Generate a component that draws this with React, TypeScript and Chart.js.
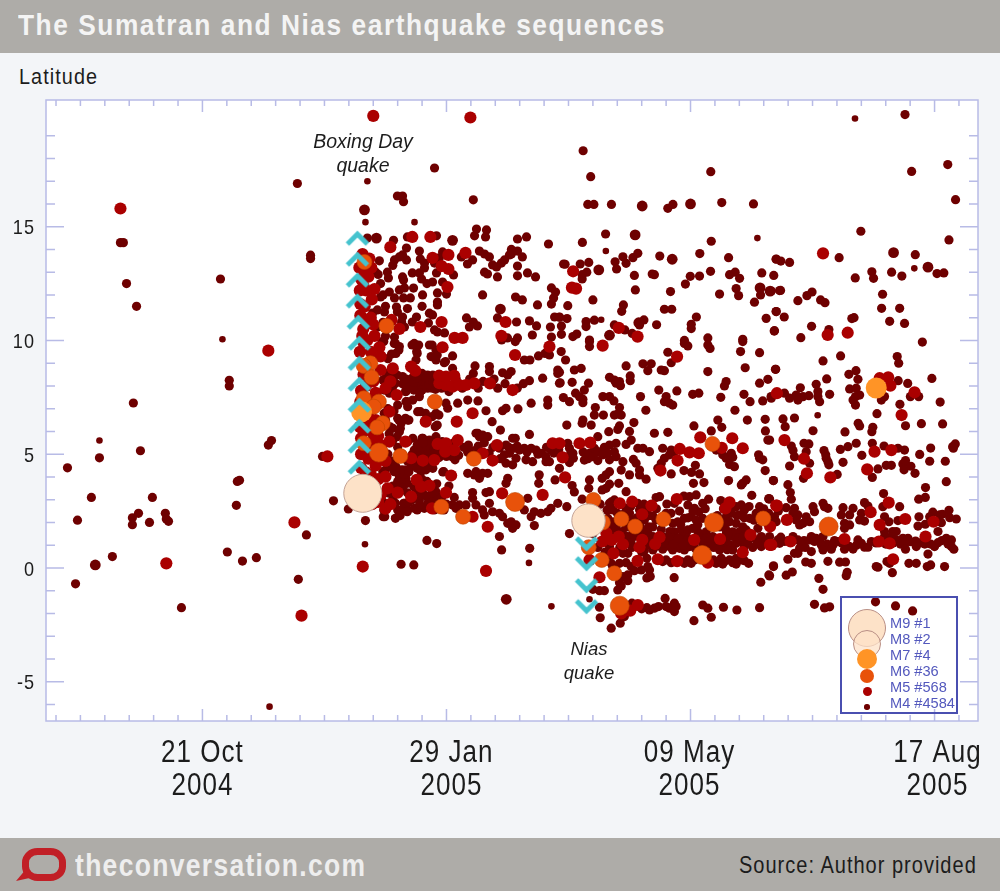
import { useEffect, useRef } from "react";
import { Chart, registerables } from "chart.js";

Chart.register(...registerables);

// x = days after 21 Oct 2004, y = latitude
type Quake = [number, number];

const xMajorDays = [0, 100, 200, 300];
const xMajorLabels = [
  ["21 Oct", "2004"],
  ["29 Jan", "2005"],
  ["09 May", "2005"],
  ["17 Aug", "2005"],
];
// the date labels do not sit exactly under their ticks in the original
const xLabelNudge = [0, 5, -1, 3];
const legendLabels = ["M9 #1", "M8 #2", "M7 #4", "M6 #36", "M5 #568", "M4 #4584"];

const boxingMarkers: Quake[] = [
  [63.5, 14.5], [63.5, 13.58], [63.5, 12.66], [63.5, 11.74], [63.9, 10.81], [64.3, 9.89],
  [64.3, 9.0], [64.3, 8.09], [64.3, 7.16], [64.3, 6.24], [64.3, 5.36], [64.3, 4.44],
];
const niasMarkers: Quake[] = [[157.4, 1.05], [157.4, 0.18], [157.4, -0.79], [157.4, -1.71]];

const m9: Quake[] = [[65.7, 3.28]];
const m8: Quake[] = [[158.2, 2.08]];
const m7: Quake[] = [[276.1, 7.91], [65.2, 6.86]];
const m6Large: Quake[] = [
  [128.1, 2.9], [209.6, 2], [204.8, 0.57], [171, -1.66], [256.6, 1.82], [72.3, 5.07],
];
const m6: Quake[] = [
  [66.4, 13.45], [75.4, 10.64], [68.8, 9], [66.1, 8.88], [69.3, 8.38], [66.1, 7.46], [72.3, 7.31],
  [70.2, 7.09], [66.1, 6.87], [73.9, 6.36], [71.6, 6.18], [66.1, 5.48], [81.1, 4.92], [95.2, 7.31],
  [97.9, 2.69], [106.8, 2.25], [111.2, 4.8], [160.2, 2.99], [171.7, 2.15], [177.3, 1.82],
  [188.9, 2.14], [229.8, 2.17], [163.6, 0.35], [168.8, -0.24], [158.3, 0.91], [164.1, 2],
  [209, 5.45],
];
const m5: Quake[] = [
  [-33.6, 15.8], [-14.8, 0.2], [27, 9.55], [37.7, 2], [40.6, -2.1], [51.2, 4.9], [70, 19.87],
  [109.8, 19.8], [77, 14.1], [86, 14.55], [93.4, 14.55], [107.8, 13.85], [100.8, 13.76],
  [94.3, 13.63], [98, 13.27], [100.8, 13.14], [100.4, 12.35], [70.5, 12.26], [124.2, 10.81],
  [89.3, 10.59], [98, 10.81], [80.7, 10.51], [77.5, 10.9], [122.5, 10.2], [103.3, 10.11],
  [106.6, 10.11], [151.9, 13.04], [151.4, 12.32], [153.1, 12.28], [170.6, 10.55], [178.3, 10.17],
  [254.3, 13.83], [256.2, 10.24], [264.4, 10.34],
  // Boxing Day aftershock column
  [65.6, 13.8], [68.4, 13.6], [64.3, 13.2], [69.2, 13.2], [65, 12.7], [68, 12.8], [64.5, 12.2],
  [64.7, 11.6], [69.4, 11.8], [64.7, 11.1], [69, 11], [65.9, 10.5], [70.5, 10.2], [72.5, 9.7],
  [66, 9.9], [64.5, 9.5], [69, 9.5], [73, 9.3], [66, 8.5], [70, 8.2], [65, 7.8], [71, 7.7],
  [64.7, 7.3], [67, 6.6], [64.5, 6.2], [70, 5.9], [65, 5.7], [69, 5.5], [72, 5.8], [65, 5],
  [68, 4.8], [71, 4.5], [75, 4.7], [65, 4.4], [69, 4.1], [72, 3.9], [66, 3.7], [71, 3.4],
  [67, 2.8], [72, 2.9], [75, 2.6], [66.5, 13], [67, 12.2], [66.5, 11.5], [67, 10.9], [67.5, 10],
  [68, 9], [67, 8], [68, 7.4], [66, 6], [69, 6.3], [67.5, 5.2], [67, 4.2], [68, 3.3], [69.5, 2.8],
  [73, 3.2], [77, 2.8], [71, 6.5], [73, 8.7], [75, 7.9], [77, 8.2], [66, 12.4], [65.5, 10.2], [68.5, 6.9],
  [70, 10.7], [66, 7.1], [70, 4.9], [66.5, 3.2], [73, 5.4], [70, 3.9],
  // lat 8 and lat 5 bands
  [98.4, 9.7], [117.8, 8.11], [127.1, 7.82], [110.7, 6.8], [104.2, 6.43], [91.5, 6.43],
  [76.6, 6.87], [79.6, 7.6], [78, 8.77], [87.2, 8.67], [85.5, 8.85], [97.1, 8.12], [99.8, 8.04],
  [102.5, 7.97], [105.3, 8.04], [108, 8.04], [111.4, 8.11], [99.8, 8.41], [97, 8.45], [103.2, 8.44],
  [128.1, 9.36], [142.2, 9.73], [164, 9.77], [104.6, 5.62], [99.8, 5.48], [96.4, 5.45],
  [103.2, 5.18], [99.5, 5.11], [120.7, 5.4], [114.8, 5.04], [118.9, 4.72], [95, 4.74], [90.3, 4.72],
  [85.5, 4.82], [83.2, 5.55], [76.6, 5.55], [101.9, 4.06], [87.8, 3.87], [75, 4.01], [75.9, 3.5],
  [80, 3.31], [85.5, 3.13], [93, 3.62], [89.6, 3.57], [99.8, 3.31], [94.1, 2.62], [122.8, 3.28],
  [139.4, 3.21], [116.9, 1.81], [110.7, 2.25], [143.5, 5.48], [146.3, 5.48], [154.5, 5.48],
  [147.6, 4.86], [148.6, 3.98], [65.7, 0.06], [116.2, -0.13], [158.9, 5.51],
  [204, 5.74], [217.1, 5.7], [212.8, 5.28], [221.4, 5.26], [195.6, 5.23], [199.6, 5.08],
  [203.4, 5.04], [194.7, 4.72], [187.7, 4.28], [194.5, 9.29],
  // lat 2 band and Nias cluster
  [171, 2.84], [176.1, 2.91], [184, 2.74], [180.2, 2.36], [194.4, 3.03], [216, 2.88], [214.3, 2.62],
  [224.6, 1.45], [232.6, 1.01], [232.6, 1.82], [235.1, 2.74], [201.5, 1.23], [212.1, 1.27],
  [221.4, 0.69], [187.3, 1.35], [185.5, 1.05], [180.2, 1.23], [179.1, 0.91], [172.3, 1.04],
  [167.7, 1.23], [170.6, 1.38], [163.8, 1.16], [168.4, 0.64], [178.3, 0.31], [186.6, 0.38],
  [194.5, 0.3], [207.1, 0.23], [162.7, -0.41], [175.3, -1.88], [178.4, -1.63], [158.6, 0.35],
  [171.6, -2], [165.5, 1.53],
  // right side
  [277.5, 8.34], [281, 8.38], [281.9, 8.01], [291.8, 7.72], [235.4, 7.68], [286.5, 6.72],
  [238.5, 5.62], [275.4, 5.11], [282.3, 5.18], [246.5, 4.8], [272.4, 4.33], [257.3, 3.98],
  [247.7, 4.16], [281.2, 2.87], [235.4, 2.74], [273.8, 2.45], [239.5, 2.11], [288, 2.15],
  [277.5, 1.89], [263.1, 1.27], [241, 1.16], [233.1, 1.01], [277.2, 1.16], [281.6, 1.08],
  [296.3, 1.38], [299.6, 2.03], [283, 0.38],
];

const m4Small: Quake[] = [
  [66.8, 15.2], [67.6, 17], [86.9, 15.2], [227.4, 14.5], [267.4, 19.76], [252.1, 6.71], [66.6, 1.04],
  [-42.2, 5.6], [8.2, 10.05], [158.6, -1.38], [78.6, 2.2], [133.8, 0.22], [143, -1.69],
  [27.5, -6.1], [234.2, 12.86], [291.7, 13.17], [165.3, 13.93], [163.4, 10.91],
];
const m4Large: Quake[] = [
  [-43.9, 0.13], [200, 16], [232.6, 12.17], [228.5, 12.31], [178.8, 10.78], [177.3, 14.64],
  [122.1, 11.38], [124.5, -1.38], [66.4, 15.74], [71.3, 14.5], [102.5, 14.4], [162.4, 13.1],
  [166.8, 10.23], [283.2, 13.86], [297.3, 13.22], [192.5, 13.57], [180.2, 15.91], [215, 1.5],
];
const m4Early: Quake[] = [
  [-55.3, 4.4], [-51.2, 2.1], [-52, -0.7], [-45.5, 3.1], [-42.2, 4.84], [-36.9, 0.5], [-33.6, 14.3],
  [-32.4, 14.3], [-31.1, 12.5], [-27, 11.5], [-28.3, 7.25], [-25.4, 5.15], [-28.7, 2.2], [-28.7, 1.9],
  [-26.2, 2.4], [-21.7, 2], [-20.5, 3.1], [-15.2, 2.4], [-13.9, 2.05], [-14.8, 2.15], [-8.6, -1.75],
  [7.4, 12.7], [11, 8.25], [11, 8], [10.2, 0.7], [14.3, 3.8], [15.2, 3.85], [13.9, 2.75], [16.4, 0.3],
  [22.1, 0.45], [28.3, 5.6], [27, 5.4], [39.3, -0.5], [38.9, 16.9], [44.3, 13.75], [44.3, 13.6],
  [42.6, 1.45], [49.2, 4.9], [53.7, 2.95],
];
const m4North: Quake[] = [
  [95.1, 17.58], [79.9, 16.35], [82, 16.35], [82.4, 16.1], [111, 16.18], [112.3, 14.9], [116.4, 14.86],
  [111.5, 14.6], [116, 14.55], [67.6, 14.5], [78.3, 14.4], [84, 14.55], [95.9, 14.6], [129.1, 14.46],
  [132.8, 14.55], [141.8, 14.24], [113.5, 13.93], [115.6, 13.8], [117.6, 13.67], [126.6, 13.8],
  [129.1, 13.93], [126.6, 14], [125.8, 13.76], [131.1, 13.67], [148, 13.36], [88.9, 13.93],
  [89.3, 13.58], [91, 13.4], [83.6, 14.06], [82, 13.76], [78.7, 13.54], [83.6, 13.54], [80.7, 13.67],
  [98.4, 13.89], [97.1, 13.63], [95.1, 13.4], [106.1, 13.67], [108.6, 13.36], [110.7, 13.54],
  [102.9, 12.88], [115.6, 13], [116.8, 12.92], [118.9, 13.32], [120.5, 13.23], [122.5, 13.4],
  [120.9, 12.79], [123.8, 13.54], [129.1, 13.27], [129.1, 12.84], [133.2, 12.97], [136.5, 12.79],
  [75.8, 13], [76.2, 12.75], [82, 12.79], [82.4, 12.66], [86, 12.97], [88.9, 12.97], [91, 13.19],
  [89.8, 12.7], [95.9, 12.97], [94.3, 12.57], [98.4, 12.57], [100, 12.04], [96.3, 12.09], [90.2, 12],
  [76.6, 12.13], [80.7, 12.22], [82.8, 12.31], [78.7, 11.87], [82.4, 11.87], [85.2, 11.87],
  [79.5, 11.47], [79.9, 11.25], [96.3, 11.69], [96.3, 11.56], [114.8, 12], [128.3, 11.91],
  [131.1, 11.78], [137.3, 11.56], [143, 12.31], [144.7, 12.13], [143.9, 11.87], [143, 11.6],
  [120.9, 10.99], [128.7, 10.81], [134, 10.86], [136.9, 10.64], [144.3, 11.03], [146.3, 11.03],
  [142.6, 10.59], [147.1, 10.64], [108.2, 10.99], [111, 10.81], [109.4, 10.59], [112.7, 10.64],
  [135.2, 10.24], [143, 10.15], [129.1, 10.11], [125, 10.11], [99.2, 10.33], [93, 11.2], [94.3, 11.12],
  [87.7, 11.03], [86, 10.81], [92.6, 10.77], [95.1, 10.46], [96.3, 10.37], [82, 11.03], [81.6, 10.81],
  [82.8, 10.59], [78.7, 10.15], [74.6, 11.25], [71.7, 11.34], [69.7, 11.2], [73, 11.91],
  [71, 13], [72.5, 13.5], [73, 12.5], [72, 12.9], [74, 12], [75, 11.5], [74, 10.8], [72, 10.6], [75, 10.2],
  [78, 13.3], [92, 12.5], [86.5, 12.3], [84, 11.4], [90, 11.5], [156, 18.34], [159.1, 17.2], [208.3, 17.42],
  [157.9, 15.98], [160.4, 15.98], [167.6, 15.98],
  [190.7, 15.81], [192.8, 15.98], [212.8, 16.06], [225.8, 16], [165.2, 14.68], [155.7, 14.31],
  [208.5, 14.36], [178.4, 13.83], [176.4, 13.64], [172.3, 13.68], [187.4, 13.71], [203.8, 13.82],
  [215.6, 13.64], [235.1, 13.57], [148.6, 13.35], [154.8, 13.36], [158.3, 13.43], [157.5, 13],
  [155.6, 12.89], [155.6, 12.7], [169.1, 13.46], [169.7, 13.14], [173.6, 13.39], [177, 12.86],
  [185.2, 12.89], [184.3, 12.92], [199.9, 12.82], [203.7, 12.83], [208.2, 13.04], [197.9, 12.48],
  [216, 12.89], [218.3, 13], [220.1, 12.73], [229.2, 12.97], [234.1, 12.86], [177.4, 12.22],
  [191.8, 12.15], [211.9, 12.04], [218.7, 12.28], [219.7, 11.97], [228.7, 12], [236.5, 12.19],
  [226.2, 11.68], [160, 11.78], [149.7, 11.53], [172.5, 11.56], [171.8, 11.28], [189.3, 11.37],
  [192.3, 11.37], [235.1, 11.27], [202.4, 11.03], [231, 10.97], [149.4, 10.96], [146.3, 11.02],
  [157.2, 10.83], [160.6, 10.89], [157.2, 10.61], [200.3, 10.71], [200.3, 10.52], [180.9, 10.9],
  [179.1, 10.68], [168.8, 10.68], [173.1, 10.46], [186.1, 10.69], [234.4, 10.43], [147.1, 10.27],
  [151.8, 10.17], [153.4, 10.28], [176.1, 10.31], [207.1, 10.11], [221.4, 10.05], [158.6, 10.02],
  [197.5, 10], [287.9, 19.93], [290.6, 17.43], [305.4, 17.73], [308.6, 16.19], [269.8, 14.8],
  [305.9, 14.42], [260.9, 13.64], [292.1, 13.77], [235.1, 13.58], [237, 13.49], [240.6, 13.43],
  [301, 12.94], [303.8, 12.97], [274.3, 13.02], [275, 12.73], [267.5, 12.75], [282.4, 13],
  [286.6, 12.83], [278.7, 12.03], [236.9, 12.2], [233.1, 12.17], [249.8, 12.13], [247.7, 11.97],
  [244, 11.75], [253.3, 11.78], [255.1, 11.66], [278.3, 11.41], [285.7, 11.41], [235.1, 11.27],
  [238.4, 11.03], [266.1, 10.96], [267, 11], [281.6, 10.84], [287.7, 10.75], [249.6, 10.62],
  [234.3, 10.41], [256.7, 10.48], [245.2, 10.12],
];
const m4Middle: Quake[] = [
  [73.6, 9.95], [78.6, 9.87], [80.7, 9.73], [79.3, 9.43], [86.8, 9.87], [87.8, 9.51], [87.5, 9.14],
  [88.6, 9.8], [93, 9.8], [95.7, 9.58], [93.7, 9.29], [95.7, 9.14], [102.5, 9.32], [99.1, 9.02],
  [102.5, 8.77], [111.7, 8.88], [111, 8.55], [117.6, 8.85], [117.6, 8.63], [126.5, 8.63], [125.1, 8.48],
  [123, 8.58], [131.9, 9.14], [134.2, 9.14], [137.7, 9.32], [140.4, 9.43], [142.2, 9.36], [145.6, 8.7],
  [145.6, 8.55], [139.4, 8.34], [134, 8.23], [128.2, 9.95], [122.6, 10.02], [146.3, 8.12], [75.2, 8.55],
  [73.9, 8.26], [78, 8.48], [75.9, 8.12], [78, 7.97], [74.5, 7.82], [76.6, 7.68], [82, 8.41], [84.1, 8.12],
  [83.4, 7.75], [80, 7.16], [83.4, 7.31], [84.1, 7.09], [86.2, 7.38], [88.2, 8.48], [90.3, 8.48],
  [92.3, 8.48], [88.9, 8.19], [91, 8.19], [93, 8.19], [88.2, 7.9], [90.3, 7.9], [92.3, 7.9], [94.4, 8.48],
  [88.9, 7.53], [108.7, 7.38], [112.9, 7.34], [104.6, 7.24], [99.8, 7.24], [100.5, 7.02], [116.2, 6.91],
  [123, 6.91], [124.4, 7.02], [129.3, 6.99], [134.7, 7.24], [141.5, 7.38], [141.5, 7.16], [118.7, 6.43],
  [122.1, 6.06], [112.8, 5.92], [116.9, 5.77], [114.8, 5.84], [128.2, 5.7], [134, 5.87], [95.4, 6.21],
  [95.7, 6.8], [88.2, 6.87], [84.1, 6.5], [80, 6.58], [81.4, 6.36], [80.7, 5.99], [78, 6.14],
  [74.3, 9.95], [79.1, 9.87], [80.5, 9.58], [85.9, 9.8], [88, 9.43], [94.1, 9.8], [96.2, 9.36], [99.6, 9.07],
  [76.4, 8.55], [79.8, 8.48], [76.4, 8.19], [79.1, 8.12], [88, 8.19], [85.9, 8.34], [90, 8.55], [92, 7.97],
  [90, 7.82], [94.1, 7.9], [86.6, 7.82], [83.2, 7.75], [83.9, 7.31], [83.2, 6.58], [80.5, 6.5], [84.6, 6.5],
  [81.1, 6.14], [79.8, 5.77], [89.3, 6.87], [91.4, 6.8], [94.1, 6.65], [96.9, 6.72], [96.2, 6.28],
  [76, 9.2], [77.5, 9.4], [74.5, 6.8], [76, 7], [78.5, 6.9], [75, 6.5], [77, 6.2], [76.5, 5.9], [78, 5.6],
  [82, 8.1], [83.5, 8.3], [85, 7.95], [86.5, 8.15], [87.8, 8.35], [89, 7.7], [91.5, 8.35], [92.8, 8.05],
  [94.5, 8.2], [95.5, 7.85], [96.5, 8.3], [98, 7.9], [99.5, 8.25], [101, 7.75], [104, 8.3], [106.5, 7.9],
  [109.5, 8.3], [113, 7.9], [115, 8.2], [119.5, 8.3], [121, 7.9], [124, 8.1], [129, 7.9], [131.5, 8.1],
  [147, 9.51], [148.8, 9.14], [158.6, 9.95], [158.6, 9.73], [190.7, 9.48], [192.1, 9.02], [197.5, 9.87],
  [198.9, 9.76], [207.1, 9.8], [208, 9.65], [220.5, 9.51], [228.3, 9.46], [221.4, 9.95], [173.6, 8.88],
  [180.5, 8.97], [183.9, 8.97], [182.5, 8.67], [188, 8.7], [189.3, 8.67], [207.1, 8.63], [222.4, 8.8],
  [234.8, 8.73], [152.4, 8.7], [155.2, 8.77], [146.3, 8.6], [175.3, 8.44], [175.3, 8.23], [166.8, 8.38],
  [168.8, 8.26], [170.9, 8.19], [169.5, 8.12], [171.3, 8.01], [151.5, 8.16], [158.2, 8.12], [146.6, 8.14],
  [187, 7.82], [194.4, 7.78], [179.5, 7.53], [190, 7.53], [191.4, 7.24], [192.7, 7.16], [189.3, 7.31],
  [200.9, 7.63], [203.4, 7.68], [214.6, 8.19], [213.9, 8], [228.3, 8.12], [231.7, 8.29], [221.9, 7.63],
  [224.4, 7.31], [212.4, 7.5], [229.6, 7.34], [233, 7.53], [152.9, 7.68], [154.5, 7.53], [155.9, 7.41],
  [156.5, 7.82], [155.9, 7.26], [147.9, 7.49], [150.4, 7.31], [164.1, 7.53], [166.8, 7.53], [168.6, 7.34],
  [161, 7.05], [160.6, 6.72], [164.3, 6.72], [168.8, 6.72], [170.9, 7.05], [170.2, 6.77], [171.6, 6.72],
  [181.7, 6.93], [218.2, 6.93], [176.8, 6.39], [211.2, 6.5], [212.8, 6.18], [223.3, 6.5], [230.6, 6.53],
  [149.3, 6.28], [155.9, 6.5], [155.6, 6.36], [159.3, 6.28], [170.9, 6.24], [170.2, 6.09], [166.5, 5.99],
  [175, 6], [185.2, 5.92], [190.7, 5.96], [201.4, 6.24], [208.5, 6.02], [230.7, 6.02], [231.7, 5.62],
  [285.3, 9], [295, 9.93], [261.5, 9.32], [254.3, 9.1], [284.7, 9.29], [234.9, 8.73], [264.9, 8.51],
  [267.8, 8.67], [268.6, 8.29], [255.8, 8.31], [298.9, 8.33], [285.1, 8.23], [289, 8.11],
  [251.5, 8.07], [252.2, 7.75], [252.9, 7.31], [252.2, 7.53], [245, 7.92], [246.1, 7.53], [243.3, 7.6],
  [240.6, 7.46], [238.5, 7.68], [244, 7.38], [248.5, 7.57], [257, 7.63], [233.1, 7.46], [265.2, 7.87],
  [267.9, 7.9], [267.6, 7.53], [266.6, 7.38], [267.6, 7.16], [269.3, 7.6], [278.2, 7.38], [279.5, 7.53],
  [290.1, 7.53], [293.5, 7.53], [285.8, 7.19], [302.3, 7.29], [276.4, 6.78], [237.9, 6.55], [242.6, 6.59],
  [268.7, 6.36], [269.3, 6.24], [238.8, 6.21], [250.2, 6.03], [263.3, 5.98], [274.7, 6.18], [274.3, 5.99],
  [288.1, 6.25], [294.6, 6.34], [303.3, 6.33],
];
const m4Lat5: Quake[] = [
  [84.1, 5.55], [86.2, 5.7], [86.8, 5.18], [88.9, 5.48], [90.3, 5.33], [91.6, 5.18], [88.2, 5.04], [93, 5.62],
  [93.7, 5.26], [95.7, 5.77], [90.3, 5.7], [93, 4.97], [92.3, 4.6], [88.9, 4.53], [85.5, 4.45], [83.4, 4.31],
  [82, 4.16], [79.3, 4.45], [78.6, 4.23], [83.4, 3.94], [80.7, 4.01], [89.6, 4.23], [91.6, 4.31], [94.4, 4.38],
  [98.5, 4.22], [103.5, 4.75], [108.7, 5.08], [112.1, 5.92], [113.5, 5.77], [108.7, 4.16], [111.4, 4.09],
  [113.5, 3.94], [112.1, 4.23], [114.8, 4.16], [116.9, 4.16], [121.7, 5.26], [124.4, 5.4], [127.1, 5.7],
  [127.8, 5.26], [129.9, 5.18], [131.9, 5.26], [134.7, 5.26], [136.7, 5.18], [139, 5.04], [142.8, 5.18],
  [140.8, 4.89], [135.3, 4.67], [132.6, 4.75], [128.5, 4.82], [125.8, 5.04], [124.4, 4.6], [127.1, 4.53],
  [123.7, 4.97], [140.8, 4.67], [142.2, 4.67], [146.3, 4.38], [138, 4.09], [137.8, 3.72], [144.5, 3.87],
  [90, 5.7], [88, 5.4], [89.3, 5.11], [92, 5.26], [94.8, 5.33], [79.8, 4.31], [77.7, 4.45], [81.8, 4.31],
  [84.6, 4.23], [88, 4.38], [83.9, 3.72], [86.6, 3.57], [79.1, 3.57], [98.9, 4.23], [102.3, 4.89], [98.2, 5.55],
  [73.9, 4.23], [81.4, 3.79], [125.1, 3.94], [124.4, 3.72], [75, 4.3],
  [74, 5.4], [76, 5], [78, 4.7], [80, 5.3], [82, 5], [84, 4.7], [86, 5], [87.5, 4.7], [89, 4.9], [90.5, 5.5],
  [92.5, 5], [94, 5.5], [95.5, 5.1], [97, 4.85], [98.5, 5.25], [100, 4.9], [101.5, 5.3], [103, 5.5], [105, 4.95],
  [107, 5.3], [109, 5.4], [111, 5.15], [113, 5.35], [115.5, 5.5], [117.5, 5.05], [119, 5.3], [122, 4.8],
  [125.5, 5.3], [129, 5.35], [133, 5.1], [137.5, 5], [141, 5.3], [144, 5.05], [146, 5.2], [150, 4.9], [156, 5.1],
  [158, 4.8],
  [162, 5.77], [173.6, 5.43], [175.7, 5.62], [178.4, 5.26], [180.5, 5.26], [183.2, 5.11], [149.7, 5.48],
  [150.4, 5.26], [151.8, 5.04], [150.4, 4.63], [152, 4.82], [156.5, 4.74], [158.6, 5.04], [160.6, 5.26],
  [162, 5.11], [160, 4.89], [162, 4.72], [166.8, 4.75], [164.7, 5.3], [166.8, 5.4], [169.5, 5.48],
  [168.8, 5.11], [166.1, 5.04], [169.5, 4.89], [164.1, 4.97], [172.3, 4.67], [176.6, 4.77], [177.7, 4.6],
  [179.1, 4.3], [179.1, 4.09], [171.6, 4.3], [175, 4.09], [181.8, 3.9], [166.8, 4.23], [165.4, 4.09],
  [163.8, 3.94], [166.8, 3.68], [165.4, 3.5], [163.8, 3.43], [170.6, 3.72], [188.6, 5.26], [192.1, 5.18],
  [189.3, 4.82], [191.4, 4.97], [193.4, 5.11], [188, 4.6], [192.1, 4.13], [186.6, 4.38], [202, 4.51],
  [200.4, 4.2], [203.7, 4.13], [197.3, 4.28], [201.2, 3.72], [205.5, 3.75], [210.5, 5.18], [213.2, 4.97],
  [214.6, 4.82], [216.7, 5.04], [217.3, 4.86], [216, 4.55], [218, 4.45], [227.9, 4.97], [229.6, 4.75],
  [228.3, 4.82], [230.6, 4.28], [233.9, 3.84], [222.8, 3.87], [220.8, 3.65], [221.4, 3.72], [215.6, 3.84],
  [225.1, 3.19], [232.1, 3.03], [173.6, 3.35], [158.6, 3.87], [158.3, 3.5], [151.5, 3.62], [152.4, 3.34],
  [232.4, 5.62], [241.3, 5.36], [242, 5.16], [242.6, 4.89], [246.5, 5.48], [248.5, 5.45], [247.4, 5.11],
  [248.8, 4.6], [254.7, 5.16], [255.6, 4.82], [256.3, 4.67], [256.7, 4.53], [255.4, 4.97], [261.4, 5.21],
  [264.5, 5.33], [267.9, 5.48], [270.2, 4.95], [262.5, 4.64], [274.5, 5.48], [279.3, 5.36], [285, 5.26],
  [287.7, 5.18], [293.9, 4.99], [298.4, 5.27], [298, 4.69], [304.4, 4.69], [307.4, 5.33], [308.5, 5.45],
  [307.7, 5.26], [240.6, 4.48], [276.8, 4.35], [280.2, 4.51], [282.3, 4.51], [287, 4.57], [288.1, 4.72],
  [287.5, 4.31], [290.3, 4.47], [292, 4.16], [274.5, 3.98], [260.1, 4.11], [246.3, 3.94], [304.8, 3.79],
  [234, 3.84], [239.9, 3.66], [240.9, 3.31], [241.3, 3.02], [279.1, 3.27], [296.3, 3.53], [293.5, 3.02],
  [296.2, 3.1],
];
const m4Lat2: Quake[] = [
  [78, 2.84], [76.6, 2.77], [80, 2.55], [82, 2.55], [84.1, 2.55], [78, 3.13], [82.7, 2.84], [88.9, 2.99],
  [90.3, 3.28], [92.3, 2.84], [93.7, 3.2], [95.7, 3.35], [90.9, 2.62], [86.8, 2.62], [110.7, 3.31],
  [110.7, 3.06], [116.2, 3.31], [117.6, 3.35], [103.2, 3.1], [102.5, 2.77], [105.3, 2.77], [108, 2.77],
  [103.9, 2.62], [112.1, 2.77], [114.8, 2.55], [115.5, 2.33], [117.6, 2.84], [118.9, 2.47], [121.7, 2.4],
  [123, 2.25], [125.1, 1.96], [127.1, 1.74], [126.5, 2.03], [128.5, 1.89], [133.3, 3.06], [134.7, 2.25],
  [131.9, 2.55], [136, 2.47], [138.7, 2.4], [141.5, 2.47], [142.8, 2.62], [145.6, 2.84], [79.1, 2.84],
  [82.5, 2.84], [83.9, 2.47], [88, 2.55], [76.4, 2.84], [74.3, 2.55], [74.7, 2.25], [79.1, 2.18], [92, 3.13],
  [94.1, 2.91], [96.2, 2.99], [59.8, 2.59], [66.8, 2.08], [74.1, 2.25], [92, 1.21], [96, 1.07], [81.4, 0.16],
  [86.6, 0.13], [121.7, 1.38], [122.6, 0.79], [134.1, 0.86], [150.4, 1.51], [136, 1.86],
  [72, 3.2], [74, 2.9], [76, 3.3], [78, 3.6], [80, 3.8], [82, 3.5], [84, 3.3], [86, 3], [88, 3.3], [90, 3.9],
  [92, 3.8], [94, 3.3], [96, 3.7], [98, 3.1], [100, 2.8], [101, 3.6], [89, 2.8], [84.5, 2.9], [95, 2.55], [99, 2.55],
  [81, 2.3],
  [166.8, 2.84], [168.8, 2.99], [165.8, 2.55], [168.2, 2.55], [173.6, 2.62], [175, 2.4], [178.4, 2.84],
  [179.1, 2.55], [182.1, 2.55], [185.9, 3.09], [187.3, 3.13], [190.3, 2.81], [193.4, 2.84], [197.3, 3.16],
  [199.6, 3.13], [202.3, 3.21], [198.9, 2.77], [201.6, 2.62], [203.4, 2.47], [207.4, 3.02], [212.4, 2.96],
  [205, 2.84], [216.7, 2.4], [218.7, 2.69], [220.8, 2.77], [222.1, 2.55], [228.3, 2.69], [232.1, 3.05],
  [226.9, 2.4], [220.1, 2.33], [214.6, 2.25], [166.1, 2.18], [168.2, 2.03], [173.6, 1.81], [175.7, 2.11],
  [181.1, 2.11], [182.9, 1.81], [185.9, 2.11], [184.6, 2.28], [192.7, 1.96], [194.8, 2.03], [197.5, 2.18],
  [200.3, 2.25], [202.3, 2.11], [205, 2.18], [216, 2.03], [218.7, 1.96], [221.4, 1.81], [224.2, 2.18],
  [227.6, 1.74], [235.1, 2.03], [166.8, 1.74], [169.5, 1.81], [180.5, 1.59], [182.5, 1.52], [193.4, 1.59],
  [196.2, 1.67], [198.9, 1.67], [200.9, 1.74], [203, 1.59], [206.4, 1.59], [214.6, 1.67], [217.3, 1.59],
  [220.1, 1.59], [222.8, 1.67], [149.3, 2.69], [155.6, 3.02],
  [160, 1.5], [161.5, 2.4], [162, 0.9], [163, 2.8], [164.5, 1.7], [165, 0.7], [166, 1.3], [167.5, 2.9], [168, 0.1],
  [169, 1.6], [170, 2.4], [171, 0.9], [172, 1.6], [173, 2.4], [174, 1.8], [175.5, 2.7], [176.5, 1.6], [178, 2.2],
  [179.5, 1.8], [181, 2.8], [183, 2.3], [184.5, 1.8], [186, 2.6], [188, 1.7], [190, 2.4], [191.5, 1.6], [192, 2.4],
  [195.5, 2.5], [196, 1.9], [199, 2.2], [201, 2.5], [203, 1.9], [206, 2.6], [208, 1.8], [211, 2.3], [212, 1.8],
  [213.5, 2.6], [215, 2], [217, 2.7], [219, 2.3], [222, 2.2], [224, 2.7], [226, 2.1], [230, 2.6], [232, 2.4],
  [234, 2.2], [236, 2.5],
  [232.4, 3.03], [239.2, 2.65], [242.6, 2.62], [242, 2.4], [244, 2.33], [247.4, 2.25], [250.2, 2.69],
  [254.3, 2.84], [256.3, 2.62], [254.9, 2.69], [250.8, 2.47], [246.1, 1.96], [243.3, 2.11], [244.7, 1.89],
  [248.8, 2.03], [262.5, 2.65], [261.8, 2.33], [266.6, 2.62], [265.2, 2.33], [263.1, 1.96], [263.1, 1.74],
  [265.2, 1.89], [269.3, 2.11], [271.3, 2.06], [271.3, 2.87], [272.7, 2.72], [270, 2.4], [279.5, 2.25],
  [281.3, 2.03], [278.8, 2.69], [285.7, 2.69], [285, 2.08], [293.6, 2.25], [293.2, 1.84], [296.2, 1.92],
  [299.3, 2.45], [298, 2.25], [302.1, 2.33], [303.2, 2.36], [302.8, 1.99], [305.9, 2.53], [306.2, 2.21],
  [308.9, 2.15], [301.4, 1.6], [234.4, 2.25],
];
const m4Lat1: Quake[] = [
  [174.3, 1.38], [175.7, 1.08], [177, 1.38], [181.8, 1.23], [183.2, 1.01], [184.6, 1.38], [188.6, 1.38],
  [190, 1.16], [191.4, 0.94], [192.7, 1.3], [194.1, 1.08], [195.5, 0.86], [196.8, 1.38], [198.2, 1.16],
  [199.6, 0.94], [203.7, 1.38], [205, 1.08], [206.4, 1.3], [207.8, 1.01], [209.1, 1.38], [210.5, 1.08],
  [213.2, 0.94], [214.6, 1.23], [216, 1.01], [217.3, 1.38], [218.7, 1.08], [220.8, 1.16], [222.1, 0.94],
  [226.9, 1.23], [229, 0.94], [229, 1.38], [187.3, 1.08], [183.2, 1.38], [184.6, 0.79], [188.6, 0.82],
  [192.7, 0.79], [197.5, 0.79], [211.9, 0.79], [217.3, 0.79], [207.1, 0.94], [172.3, 0.64], [174.3, 0.64],
  [166.8, 0.94], [173.6, 1.38], [181.1, 0.76], [182.1, 0.42], [190, 0.35], [188.6, 0.28], [192.1, 0.23],
  [196.2, 0.28], [197.5, 0.2], [198.9, 0.35], [200.3, 0.2], [209.4, 0.35], [210.5, 0.2], [212.6, 0.42],
  [213.9, 0.28], [216, 0.35], [217.3, 0.23], [218.7, 0.42], [220.8, 0.35], [222.1, 0.32], [223.8, 0.2],
  [213.2, 0.17], [182.5, 0.06], [218.7, 0.17], [201.6, 0.35], [173.6, 0.23], [170.9, 0.2], [175.7, 0.06],
  [167.5, 0.2], [166.8, 0.5],
  [176, 0.9], [178, 1.5], [180, 0.7], [182, 1], [186, 0.95], [189, 1.1], [191, 1.35], [193, 1.05], [195, 1.3], [197, 1],
  [199, 1.3], [201, 1.05], [202, 0.85], [204, 1.2], [206, 0.85], [208.5, 1.2], [209.5, 0.9], [211.5, 1.3], [213, 1.2],
  [215, 0.8], [219.5, 1.3], [221.5, 1.35], [223.5, 1.1], [225.5, 0.9], [228, 1.1], [231, 1.2], [235, 1.1], [237, 1.35],
  [240, 1.2], [246.5, 1.2], [247, 0.9], [251.5, 1.3], [256, 1.05], [259, 1.2], [262, 1.1], [265, 0.95], [268, 1],
  [276, 1.1], [280, 1.05], [283, 1.1], [286, 1.05], [290, 1.15], [294, 1.1], [296, 1.05], [303, 1.2],
  [232.4, 1.38], [235.8, 1.23], [238.5, 1.16], [236.5, 1.08], [242, 1.38],
  [244, 1.23], [245.4, 1.08], [244.7, 0.86], [242.6, 0.64], [244, 0.64], [249.5, 1.38], [248.8, 1.23],
  [250.8, 1.16], [252.9, 1.23], [254.3, 1.38], [253.6, 1.01], [254.3, 0.79], [257.7, 0.82], [260.4, 1.16],
  [258.4, 1.01], [263.1, 0.82], [266.6, 0.83], [268.6, 1.23], [270, 1.08], [271.3, 0.91], [272.7, 0.91],
  [274.1, 1.16], [279.5, 1.6], [279.5, 1.38], [282.9, 1.6], [284.3, 1.6], [282.3, 1.38], [284.3, 1.23],
  [287, 1.3], [289.1, 1.3], [287.7, 1.08], [288.1, 0.82], [292.2, 1.18], [292.5, 0.94], [298.4, 1.05],
  [301.4, 1.11], [300, 0.94], [304.8, 1.3], [306.9, 1.23], [305.5, 1.05], [306.9, 0.94], [307.9, 0.82],
  [249.5, 0.72], [239.9, 0.38], [247.2, 0.26], [249.5, 0.2], [256.3, 0.29], [261.1, 0.25], [263.5, 0.26],
  [234, 0.06], [276.1, 0.06], [276.8, 0.03], [280.5, 0.28], [281.6, 0.2], [289.5, 0.2], [292.5, 0.2],
  [297.3, 0.61], [297, 0.06], [298.4, 0.13], [304.1, 0.06],
];
const m4South: Quake[] = [
  [179.8, -0.09], [177, -0.12], [183.2, -0.09], [182.1, -0.44], [183.5, -0.38], [193.3, -0.43],
  [172.3, -0.38], [174.3, -0.31], [174.3, -0.56], [170.9, -0.65], [170.2, -0.97], [171.6, -0.79],
  [234, 0.09], [232.1, -0.31], [228.8, -0.63], [162.7, -1], [164.7, -1], [160, -0.94], [162.7, -1.73],
  [163, -2.19], [167.5, -2.65], [171.2, -2.43], [182.1, -1.75], [185.2, -1.77], [186.9, -1.7],
  [183.2, -1.85], [189.6, -1.34], [190, -1.7], [191.4, -1.77], [193.4, -1.55], [193.4, -1.92],
  [194.1, -1.7], [205, -1.63], [207.1, -1.77], [213.5, -1.73], [219, -1.85], [228.3, -1.75],
  [201.4, -2.32], [208.5, -2.17], [172.9, -2.14], [264.2, -0.19], [263.8, -0.34], [282.7, -0.21],
  [239.2, -0.32], [241.7, -0.18], [232.4, -0.35], [252.6, -0.46], [254.3, -0.94], [275.8, -1.49],
  [250.8, -1.6], [254.9, -1.76], [257, -1.71], [284, -1.67], [291, -1.89],
  [177, -1.7], [180, -1.8], [173, -1.9], [176, -1.55],
];

const m4 = [...m4Early, ...m4North, ...m4Middle, ...m4Lat5, ...m4Lat2, ...m4Lat1, ...m4South];

const sans = '"Liberation Sans", sans-serif';

function makeChevron(up: boolean) {
  const c = document.createElement("canvas");
  c.width = 26;
  c.height = 18;
  const g = c.getContext("2d")!;
  g.strokeStyle = "#45c3ce";
  g.lineWidth = 4.8;
  g.beginPath();
  if (up) {
    g.moveTo(3, 15);
    g.lineTo(13, 5);
    g.lineTo(23, 15);
  } else {
    g.moveTo(3, 3);
    g.lineTo(13, 13);
    g.lineTo(23, 3);
  }
  g.stroke();
  return c;
}

const toPoints = (list: Quake[]) => list.map(([x, y]) => ({ x, y }));

// the only sans installed is too wide, so the axis text is squeezed by hand
function squeezedText(ctx: CanvasRenderingContext2D, text: string, x: number, y: number, align: CanvasTextAlign, squeeze: number) {
  ctx.save();
  ctx.translate(x, y);
  ctx.scale(squeeze, 1);
  ctx.textAlign = align;
  ctx.fillText(text, 0, 0);
  ctx.restore();
}

// inward ticks on all four sides and the axis labels, taken from the scales
const frameTicks = {
  id: "frameTicks",
  beforeDraw(chart: Chart) {
    const { ctx, chartArea: a } = chart;
    ctx.save();
    ctx.fillStyle = "#ffffff";
    ctx.fillRect(a.left, a.top, a.right - a.left, a.bottom - a.top);
    ctx.restore();
  },
  afterDatasetsDraw(chart: Chart) {
    const { ctx, chartArea: a, scales } = chart;
    ctx.save();
    ctx.strokeStyle = "#b8bbe6";
    ctx.lineWidth = 1.5;
    ctx.strokeRect(a.left, a.top, a.right - a.left, a.bottom - a.top);
    ctx.beginPath();
    scales.x.ticks.forEach((t) => {
      const px = scales.x.getPixelForValue(t.value);
      const len = t.value % 100 === 0 ? 12 : 6;
      ctx.moveTo(px, a.top);
      ctx.lineTo(px, a.top + len);
      ctx.moveTo(px, a.bottom);
      ctx.lineTo(px, a.bottom - len);
    });
    scales.y.ticks.forEach((t) => {
      const py = scales.y.getPixelForValue(t.value);
      const len = t.value % 5 === 0 ? 18 : 9;
      ctx.moveTo(a.left, py);
      ctx.lineTo(a.left + len, py);
      ctx.moveTo(a.right, py);
      ctx.lineTo(a.right - len, py);
    });
    ctx.stroke();

    ctx.fillStyle = "#1c1c1c";
    (ctx as any).letterSpacing = "1.2px";
    ctx.textBaseline = "alphabetic";
    ctx.font = `31px ${sans}`;
    xMajorDays.forEach((day, i) => {
      const px = scales.x.getPixelForValue(day) + xLabelNudge[i];
      squeezedText(ctx, xMajorLabels[i][0], px, a.bottom + 41, "center", 0.84);
      squeezedText(ctx, xMajorLabels[i][1], px, a.bottom + 74, "center", 0.84);
    });
    ctx.font = `21px ${sans}`;
    ctx.textBaseline = "middle";
    scales.y.ticks.forEach((t) => {
      if (t.value % 5 !== 0) return;
      squeezedText(ctx, String(t.value), a.left - 11, scales.y.getPixelForValue(t.value) + 2, "right", 0.86);
    });
    ctx.restore();
  },
};

const abs = (left: number, top: number, extra: React.CSSProperties = {}): React.CSSProperties => ({
  position: "absolute",
  left,
  top,
  whiteSpace: "nowrap",
  transformOrigin: "left top",
  ...extra,
});

const legendCircles = [
  { top: 609, r: 19, bg: "#fde2c8", border: "1px solid #b98f85" },
  { top: 630, r: 14, bg: "rgba(253,226,200,0.75)", border: "1px solid #b98f85" },
  { top: 649, r: 10, bg: "#ff9426", border: "none" },
  { top: 669, r: 7, bg: "#e8520a", border: "none" },
  { top: 686.5, r: 4.5, bg: "#aa0000", border: "none" },
  { top: 704.3, r: 2.7, bg: "#6e0000", border: "none" },
];
const legendTextTops = [615, 631, 647, 663, 679, 695];

export default function App() {
  const canvasRef = useRef<HTMLCanvasElement>(null);

  useEffect(() => {
    const ds = (data: Quake[], radius: number, color: string, extra: object = {}) => ({
      data: toPoints(data),
      pointRadius: radius,
      backgroundColor: color,
      borderWidth: 0,
      ...extra,
    });
    const chart = new Chart(canvasRef.current!, {
      type: "scatter",
      data: {
        datasets: [
          ds(boxingMarkers, 10, "#45c3ce", { pointStyle: makeChevron(true) }),
          ds(niasMarkers, 10, "#45c3ce", { pointStyle: makeChevron(false) }),
          ds(m9, 19, "#fde2c8", { borderWidth: 1, borderColor: "#c4a396" }),
          ds(m8, 16.7, "#fde2c8", { borderWidth: 1, borderColor: "#c4a396" }),
          ds(m7, 10.5, "#ff9426"),
          ds(m6Large, 9.5, "#e8520a", { borderWidth: 1, borderColor: "rgba(190,70,0,0.6)" }),
          ds(m6, 7.5, "#e8520a", { borderWidth: 1, borderColor: "rgba(190,70,0,0.6)" }),
          ds(m5, 6.1, "#aa0000"),
          ds(m4Large, 5.4, "#6e0000"),
          ds(m4, 4.6, "#6e0000"),
          ds(m4Small, 3.3, "#6e0000"),
        ],
      },
      options: {
        animation: false,
        responsive: false,
        layout: { padding: { top: 100, right: 22 } },
        plugins: { legend: { display: false }, tooltip: { enabled: false } },
        scales: {
          x: {
            type: "linear",
            min: -64.1,
            max: 317.8,
            afterFit: (s) => {
              s.height = 170;
            },
            grid: { display: false, drawTicks: false },
            border: { display: false },
            ticks: { display: false, stepSize: 10, includeBounds: false, autoSkip: false, maxRotation: 0 },
          },
          y: {
            type: "linear",
            min: -6.73,
            max: 20.57,
            afterFit: (s) => {
              s.width = 46;
            },
            // no mark at 20 in the original
            afterBuildTicks: (s) => {
              s.ticks = s.ticks.filter((t) => t.value < 20);
            },
            grid: { display: false, drawTicks: false },
            border: { display: false },
            ticks: { display: false, stepSize: 1, includeBounds: false, autoSkip: false },
          },
        },
      },
      plugins: [frameTicks],
    });
    return () => chart.destroy();
  }, []);

  return (
    <div style={{ position: "absolute", left: 0, top: 0, width: 1000, height: 891, overflow: "hidden", background: "#f3f5f8", fontFamily: sans }}>
      <div style={{ position: "absolute", left: 0, top: 0, width: 1000, height: 53, background: "#aeaca8" }} />
      <div style={abs(18, 9, { color: "#f4f4f4", fontSize: 29, fontWeight: 700, letterSpacing: 1.7, transform: "scaleX(0.907)" })}>
        The Sumatran and Nias earthquake sequences
      </div>
      <div style={abs(19, 64, { color: "#1c1c1c", fontSize: 22, letterSpacing: 1.2, transform: "scaleX(0.9)" })}>Latitude</div>

      <canvas ref={canvasRef} width={1000} height={891} style={{ position: "absolute", left: 0, top: 0, display: "block" }} />

      <div style={abs(263, 129, { width: 200, textAlign: "center", fontStyle: "italic", fontSize: 19.5, lineHeight: "24px", color: "#1c1c1c" })}>
        Boxing Day
        <br />
        quake
      </div>
      <div style={abs(489, 637, { width: 200, textAlign: "center", fontStyle: "italic", fontSize: 18.5, lineHeight: "24px", color: "#1c1c1c" })}>
        Nias
        <br />
        quake
      </div>

      <div style={{ position: "absolute", left: 840, top: 596, width: 114, height: 114, border: "2px solid #4a4fb0" }} />
      {legendCircles.map((c, i) => (
        <div
          key={i}
          style={{
            position: "absolute",
            left: 867 - c.r,
            top: c.top,
            width: c.r * 2,
            height: c.r * 2,
            boxSizing: "border-box",
            borderRadius: "50%",
            background: c.bg,
            border: c.border,
          }}
        />
      ))}
      {legendLabels.map((t, i) => (
        <div key={t} style={abs(890, legendTextTops[i], { fontSize: 14.6, color: "#5358bd" })}>
          {t}
        </div>
      ))}

      <div style={{ position: "absolute", left: 0, top: 838, width: 1000, height: 53, background: "#aeaca8" }} />
      <svg style={{ position: "absolute", left: 14, top: 846 }} width="54" height="38">
        <path d="M2 35 L13 22 L20 31 Z" fill="#c11f26" />
        <rect x="11.5" y="5.5" width="37" height="26" rx="12" ry="11" fill="none" stroke="#c11f26" strokeWidth="7" />
      </svg>
      <div style={abs(75, 847, { color: "#eeeeee", fontSize: 32, fontWeight: 700, letterSpacing: 1.6, transform: "scaleX(0.827)" })}>
        theconversation.com
      </div>
      <div style={abs(739, 851, { color: "#1c1c1c", fontSize: 24, letterSpacing: 1.2, transform: "scaleX(0.834)" })}>Source: Author provided</div>
    </div>
  );
}
